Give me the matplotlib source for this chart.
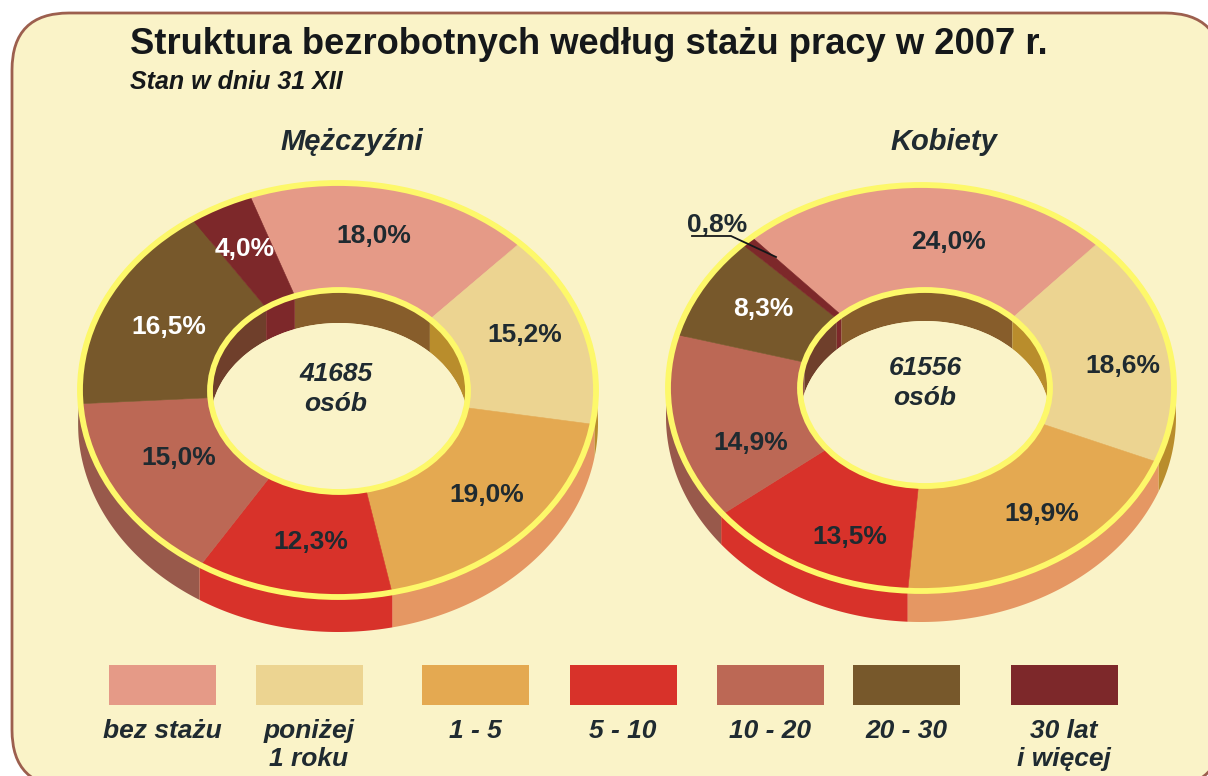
import numpy as np
import matplotlib
matplotlib.use('Agg')
import matplotlib.pyplot as plt
from matplotlib.patches import Ellipse, FancyBboxPatch, Rectangle

# data
categories = ['bez stażu', 'poniżej\n1 roku', '1 - 5', '5 - 10', '10 - 20', '20 - 30', '30 lat\ni więcej']
men_values = [18.0, 15.2, 19.0, 12.3, 15.0, 16.5, 4.0]
women_values = [24.0, 18.6, 19.9, 13.5, 14.9, 8.3, 0.8]
men_total = 41685
women_total = 61556

# colours per category
top_colors = ['#E59A87', '#ECD491', '#E4A951', '#D8322A', '#BC6855', '#77582B', '#7D282A']
outer_wall_colors = ['#C98672', '#B98D2C', '#E59763', '#D8322A', '#98594B', '#6F3F2B', '#7D282A']
inner_wall_colors = ['#875D2B', '#B98D2C', '#E59763', '#D8322A', '#98594B', '#6F3F2B', '#7D282A']

CREAM = '#FAF3C8'
YELLOW = '#FDF86A'
DARK = '#1F2A30'
FONT = 'Liberation Sans'

# label positions in pixels
men_label_pos = [(374, 236), (525, 335), (487, 495), (311, 542), (179, 458), (169, 327), (245, 249)]
women_label_pos = [(948, 242), (1123, 366), (1042, 514), (850, 537), (751, 443), (763, 309), (717, 225)]
legend_x = [109, 256, 422, 570, 717, 853, 1011]


def arc(cx, cy, rx, ry, a0, a1, dy=0):
    # angles in degrees, clockwise from the top
    t = np.radians(np.linspace(a0, a1, max(int(abs(a1 - a0)) * 2, 4)))
    return cx + rx * np.sin(t), cy + dy - ry * np.cos(t)


def drawDonut(ax, values, start, outer, hole, depth, hole_depth):
    cx, cy, rx, ry = outer
    hx, hy, hrx, hry = hole

    # cumulative boundaries of the wedges
    vals = np.asarray(values, dtype=float)
    edges = start + np.concatenate([[0], np.cumsum(vals)]) / vals.sum() * 360

    # outer wall
    for i in range(len(vals)):
        x0, y0 = arc(cx, cy, rx + 2, ry + 2, edges[i], edges[i + 1])
        x1, y1 = arc(cx, cy, rx + 2, ry + 2, edges[i], edges[i + 1], depth)
        ax.fill(np.r_[x0, x1[::-1]], np.r_[y0, y1[::-1]], color=outer_wall_colors[i], lw=0, zorder=2)

    # top face
    for i in range(len(vals)):
        x0, y0 = arc(cx, cy, rx, ry, edges[i], edges[i + 1])
        x1, y1 = arc(hx, hy, hrx, hry, edges[i], edges[i + 1])
        ax.fill(np.r_[x0, x1[::-1]], np.r_[y0, y1[::-1]], color=top_colors[i], lw=0.4, zorder=3)

    # hole with inner wall, everything clipped to the hole
    clip = Ellipse((hx, hy), 2 * hrx, 2 * hry, fc=CREAM, ec='none', zorder=4)
    ax.add_patch(clip)
    for i in range(len(vals)):
        x0, y0 = arc(hx, hy, hrx, hry, edges[i], edges[i + 1])
        x1, y1 = arc(hx, hy, hrx, hry, edges[i], edges[i + 1], hole_depth)
        wall = ax.fill(np.r_[x0, x1[::-1]], np.r_[y0, y1[::-1]], color=inner_wall_colors[i], lw=0, zorder=5)[0]
        wall.set_clip_path(clip)
    floor = Ellipse((hx, hy + hole_depth), 2 * hrx, 2 * hry, fc=CREAM, ec='none', zorder=6)
    ax.add_patch(floor)
    floor.set_clip_path(clip)

    # yellow rims
    ax.add_patch(Ellipse((cx, cy), 2 * rx, 2 * ry, fc='none', ec=YELLOW, lw=4.2, zorder=7))
    ax.add_patch(Ellipse((hx, hy), 2 * hrx, 2 * hry, fc='none', ec=YELLOW, lw=4.2, zorder=7))


def drawLabels(ax, values, positions):
    for i, (v, pos) in enumerate(zip(values, positions)):
        # the smallest wedge of the women stays dark, it sits outside the ring
        white = i == 5 or (i == 6 and v > 1)
        ax.text(pos[0], pos[1], ('%.1f%%' % v).replace('.', ','), fontsize=19, fontweight='bold',
                color='white' if white else DARK, ha='center', va='center', family=FONT, zorder=9)


fig = plt.figure(figsize=(12.08, 7.76), dpi=100)
ax = fig.add_axes([0, 0, 1, 1])
ax.set_xlim(0, 1208)
ax.set_ylim(776, 0)
ax.axis('off')

# rounded panel, it runs off the right and bottom edges
ax.add_patch(FancyBboxPatch((69, 70), 1096, 660, boxstyle='round,pad=57,rounding_size=57',
                            fc=CREAM, ec='#9C5F4E', lw=2, zorder=1))

ax.text(130, 45, 'Struktura bezrobotnych według stażu pracy w 2007 r.', fontsize=26.2, fontweight='bold',
        color='#15181A', ha='left', va='center', family=FONT)
ax.text(130, 82, 'Stan w dniu 31 XII', fontsize=18, fontweight='bold', style='italic',
        color='#15181A', ha='left', va='center', family=FONT)
ax.text(352, 142, 'Mężczyźni', fontsize=21, fontweight='bold', style='italic',
        color=DARK, ha='center', va='center', family=FONT)
ax.text(944, 142, 'Kobiety', fontsize=21, fontweight='bold', style='italic',
        color=DARK, ha='center', va='center', family=FONT)

drawDonut(ax, men_values, -20, (338, 390, 258, 207), (339, 391, 129, 101), 33, 33)
drawDonut(ax, women_values, -42, (921, 388, 253, 203), (925, 388, 125, 98), 29, 31)

drawLabels(ax, men_values, men_label_pos)
drawLabels(ax, women_values, women_label_pos)

# leader line for the 0,8% wedge
ax.plot([692, 731, 776], [236, 236, 257], color='#15181A', lw=1.3, zorder=10)

ax.text(336, 389, '%d\nosób' % men_total, fontsize=19, fontweight='bold', style='italic',
        color=DARK, ha='center', va='center', family=FONT, linespacing=1.3, zorder=9)
ax.text(925, 383, '%d\nosób' % women_total, fontsize=19, fontweight='bold', style='italic',
        color=DARK, ha='center', va='center', family=FONT, linespacing=1.3, zorder=9)

# legend
for x, name, color in zip(legend_x, categories, top_colors):
    ax.add_patch(Rectangle((x, 665), 107, 40, fc=color, ec='none', zorder=3))
    ax.text(x + 53, 719, name, fontsize=19, fontweight='bold', style='italic', color=DARK,
            ha='center', va='top', family=FONT, linespacing=1.22, zorder=3)

fig.savefig('out.png', dpi=100, facecolor='white')
